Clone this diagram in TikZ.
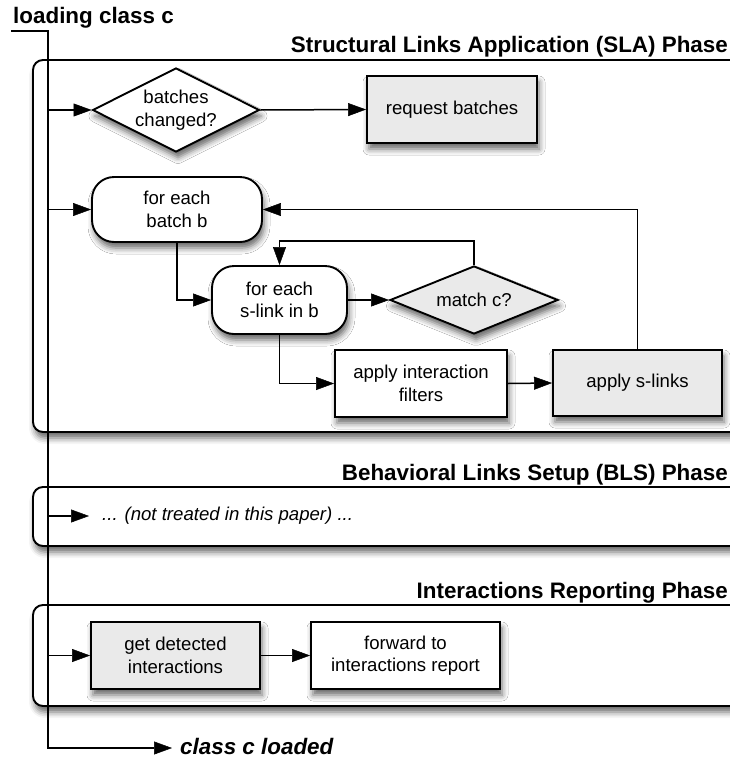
\documentclass[tikz,border=0pt]{standalone}
\usepackage{fontspec}
\setmainfont{Liberation Sans}
\usetikzlibrary{shapes.geometric,arrows.meta,shadows.blur,calc}

\definecolor{boxgray}{RGB}{234,234,234}
\newcommand\boxtextfont{\fontsize{18.6}{22.5}\selectfont}
\newcommand\phasetitlefont{\fontsize{22.4}{26}\selectfont\bfseries}

\tikzset{
  flow/.style={line width=1.5pt, -{Triangle[length=18pt,width=13pt,fill=black,line width=0.5pt]}},
  softshadow/.style={blur shadow={shadow xshift=2pt, shadow yshift=-6pt,
      shadow blur radius=6pt, shadow opacity=60}},
  task/.style={draw, line width=1.9pt, fill=white, inner sep=0pt,
      align=center, font=\boxtextfont, softshadow},
  graytask/.style={task, fill=boxgray},
  loopbox/.style={task, rounded corners=22pt},
  decision/.style={draw, line width=1.9pt, fill=white, shape=diamond,
      inner sep=0pt, softshadow},
  caption/.style={inner sep=0pt, align=center, font=\boxtextfont},
  phase/.style={draw, line width=1.9pt, fill=white, rounded corners=10pt, softshadow},
  phasetitle/.style={anchor=base east, inner sep=0pt, font=\phasetitlefont},
}

\begin{document}
\begin{tikzpicture}[x=1pt, y=-1pt]
  \useasboundingbox (0,0) rectangle (730,758);
  \clip (0,0) rectangle (730,758);

  % phase frames, open to the right
  \draw[phase] (33,60) rectangle (770,432);
  \draw[phase] (33,487) rectangle (770,546);
  \draw[phase] (33,605) rectangle (770,706);

  % phase titles
  \node[phasetitle] (slaTitle) at (728,52) {Structural Links Application (SLA) Phase};
  \node[phasetitle] (blsTitle) at (728,480) {Behavioral Links Setup (BLS) Phase};
  \node[phasetitle] (irTitle) at (728,598) {Interactions Reporting Phase};

  % SLA phase
  \node[decision, minimum width=167pt, minimum height=84pt] (changed) at (176,110) {};
  \node[caption] (changedText) at (changed.center) {batches\\changed?};
  \node[graytask, minimum width=170pt, minimum height=67pt] (request) at (452,109.5) {request batches};
  \node[loopbox, minimum width=170pt, minimum height=65pt] (batch) at (177,209.5) {for each\\batch b};
  \node[loopbox, minimum width=135pt, minimum height=68pt] (slink) at (279.5,300) {for each\\s-link in b};
  \node[decision, fill=boxgray, minimum width=168pt, minimum height=68pt] (match) at (474,300) {};
  \node[caption] (matchText) at (match.center) {match c?};
  \node[task, minimum width=172pt, minimum height=67pt] (filters) at (421,383.5) {apply interaction\\filters};
  \node[graytask, minimum width=169pt, minimum height=66pt] (apply) at (637.5,383) {apply s-links};

  % BLS phase
  \node[anchor=west, inner ysep=2pt, inner xsep=13pt, font=\boxtextfont\itshape] (bls) at (89,516)
    {... (not treated in this paper) ...};

  % Interactions reporting phase
  \node[graytask, minimum width=169pt, minimum height=67pt] (detected) at (175.5,655.5) {get detected\\interactions};
  \node[task, minimum width=189pt, minimum height=67pt] (forward) at (405.5,655.5) {forward to\\interactions report};

  % entry and exit of the class loading
  \node[anchor=base west, inner sep=0pt, font=\phasetitlefont] (loading) at (13,23) {loading class c};
  \node[anchor=base west, inner sep=0pt, font=\phasetitlefont\itshape] (done) at (180,754) {class c loaded};
  \coordinate (start) at (11,31);
  \coordinate (trunk) at (48,31);
  \coordinate (doneTip) at (172,748);

  \draw[flow] (start) -- (trunk) |- (doneTip);

  % branches off the trunk
  \draw[flow] (changed.west -| trunk) -- (changed.west);
  \draw[flow] (batch.west -| trunk) -- (batch.west);
  \draw[flow] (bls.west -| trunk) -- (bls.west);
  \draw[flow] (detected.west -| trunk) -- (detected.west);

  % SLA flow
  \draw[flow] (changed.east) -- (request.west);
  \draw[flow] (batch.south) |- (slink.west);
  \draw[flow] (slink.east) -- (match.west);
  \draw[flow] (match.north) -- ++(0,-24) -| (slink.north);
  \draw[flow] (slink.south) |- (filters.west);
  \draw[flow] (filters.east) -- (apply.west);
  \draw[flow] (apply.north) |- (batch.east);

  % reporting flow
  \draw[flow] (detected.east) -- (forward.west);
\end{tikzpicture}
\end{document}
